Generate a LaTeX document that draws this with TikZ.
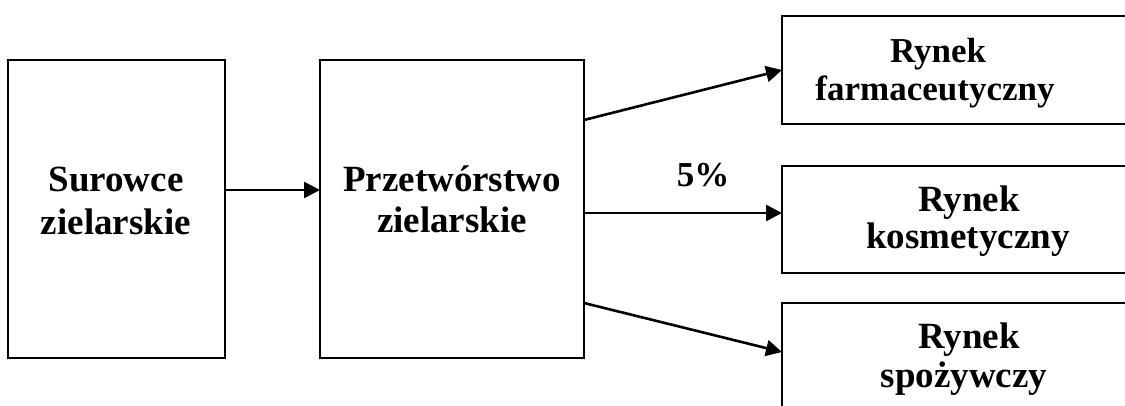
\documentclass[tikz,border=0pt]{standalone}
\usepackage{fontspec}
\setmainfont{Liberation Serif}
\usetikzlibrary{arrows.meta}
\begin{document}
\begin{tikzpicture}[x=0.5pt,y=-0.5pt,
  box/.style={draw=black,line width=1.45pt,inner sep=0pt,outer sep=0pt},
  txt/.style={inner sep=0pt,anchor=base,font=\fontsize{18.5}{22}\selectfont\bfseries},
  txtsmall/.style={txt,font=\fontsize{17.5}{21}\selectfont\bfseries},
  arr/.style={line width=1.3pt,-{Triangle[length=8pt,width=8pt]}}]
\useasboundingbox (0,0) rectangle (1125,406);
\clip (0,0) rectangle (1125,406);

% main boxes
\node[box,minimum width=108.5pt,minimum height=149pt] (b1) at (116.5,209) {};
\node[box,minimum width=132pt,minimum height=149pt] (b2) at (452,209) {};

% market boxes, running past the right and bottom edges
\node[box,minimum width=179pt,minimum height=54pt] (f) at (961,70) {};
\node[box,minimum width=179pt,minimum height=53.5pt] (k) at (961,219.5) {};
\node[box,minimum width=179pt,minimum height=54pt] (s) at (961,357) {};

% labels
\node[txt] (t1a) at (116,192) {Surowce};
\node[txt] (t1b) at (116,235) {zielarskie};
\node[txt] (t2a) at (452,192) {Przetwórstwo};
\node[txt] (t2b) at (452,233) {zielarskie};
\node[txtsmall] (tfa) at (938,63) {Rynek};
\node[txtsmall] (tfb) at (935,101) {farmaceutyczny};
\node[txt] (tka) at (969,212) {Rynek};
\node[txt] (tkb) at (968,249) {kosmetyczny};
\node[txt] (tsa) at (969,349) {Rynek};
\node[txt] (tsb) at (964,387) {spożywczy};
\node[txtsmall] (pct) at (703,187) {5\%};

% connectors
\coordinate (o1) at ([yshift=44.5pt]b2.east);
\coordinate (o2) at ([yshift=-2pt]b2.east);
\coordinate (o3) at ([yshift=-47pt]b2.east);
\draw[arr] ([yshift=9.5pt]b1.east) -- ([yshift=9.5pt]b2.west);
\draw[arr] (o1) -- (f.west);
\draw[arr] (o2) -- (k.west |- o2);
\draw[arr] (o3) -- ([yshift=2.5pt]s.west);
\end{tikzpicture}
\end{document}
